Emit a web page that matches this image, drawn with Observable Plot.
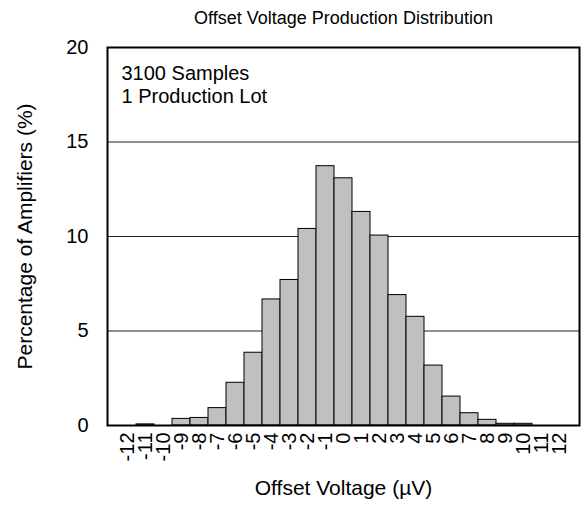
<!DOCTYPE html>
<html><head><meta charset="utf-8">
<script src="https://cdn.jsdelivr.net/npm/d3@7"></script>
<script src="https://cdn.jsdelivr.net/npm/@observablehq/plot@0.6"></script>
<style>body{margin:0;background:#fff}</style>
</head><body><div id="chart"></div>
<script>
const voltages = [-12,-11,-10,-9,-8,-7,-6,-5,-4,-3,-2,-1,0,1,2,3,4,5,6,7,8,9,10,11,12];
const percents = [0,0.06,0,0.35,0.4,0.92,2.26,3.85,6.67,7.7,10.4,13.72,13.08,11.3,10.05,6.9,5.75,3.17,1.53,0.65,0.3,0.09,0.09,0,0];
const yTicks = [0,5,10,15,20];
const gridValues = [5,10,15];
const title = "Offset Voltage Production Distribution";
const notes = ["3100 Samples","1 Production Lot"];
const xLabel = "Offset Voltage (µV)";
const yLabel = "Percentage of Amplifiers (%)";

const data = voltages.map((v,i)=>({v:String(v), p:percents[i]}));
const font = "Arial, 'Liberation Sans', sans-serif";

const chart = Plot.plot({
  width:584, height:507,
  marginTop:47, marginBottom:82, marginLeft:107, marginRight:5,
  style:{fontFamily:font, fontSize:"20px", color:"#000", background:"#fff"},
  x:{type:"band", domain:voltages.map(String), padding:0, label:null},
  y:{domain:[0,20], label:null},
  marks:[
    Plot.ruleY(gridValues,{stroke:"#222", strokeWidth:1}),
    Plot.barY(data.filter(d=>d.p>0),{x:"v", y:"p", fill:"#c0c0c0", stroke:"#000", strokeWidth:1}),
    Plot.frame({stroke:"#000", strokeWidth:2}),
    Plot.axisX({tickRotate:-90, tickSize:0, tickPadding:7, fontSize:20, label:null}),
    Plot.axisY({ticks:yTicks, tickSize:0, tickPadding:19, fontSize:20, label:null}),
    Plot.text([title],{text:d=>d, frameAnchor:"top", dy:-29, fontSize:18, lineAnchor:"middle"}),
    Plot.text([notes.join("\n")],{text:d=>d, frameAnchor:"top-left", dx:14, dy:16, fontSize:20, lineHeight:1.15, textAnchor:"start", lineAnchor:"top"}),
    Plot.text([xLabel],{text:d=>d, frameAnchor:"bottom", dy:63, fontSize:21, lineAnchor:"middle"}),
    Plot.text([yLabel],{text:d=>d, frameAnchor:"left", dx:-82, rotate:-90, fontSize:21, textAnchor:"middle", lineAnchor:"middle"})
  ]
});
document.getElementById("chart").appendChild(chart);
</script>
</body></html>
